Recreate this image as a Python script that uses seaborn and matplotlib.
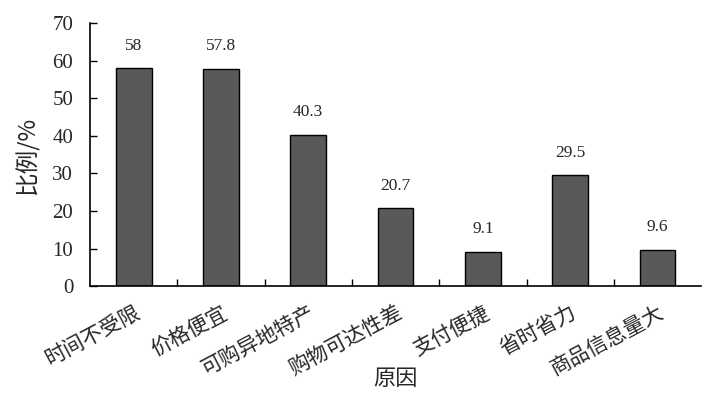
import matplotlib
matplotlib.use("Agg")
import matplotlib.pyplot as plt
import seaborn as sns
import pandas as pd

categories = ["时间不受限", "价格便宜", "可购异地特产", "购物可达性差", "支付便捷", "省时省力", "商品信息量大"]
values = [58, 57.8, 40.3, 20.7, 9.1, 29.5, 9.6]
value_labels = ["58", "57.8", "40.3", "20.7", "9.1", "29.5", "9.6"]
y_ticks = [0, 10, 20, 30, 40, 50, 60, 70]

sns.set_theme(style="ticks")
plt.rcParams['font.family'] = ['Liberation Serif', 'Noto Sans CJK SC', 'DejaVu Sans']
plt.rcParams['axes.unicode_minus'] = False

df = pd.DataFrame({"原因": categories, "比例": values})

fig = plt.figure(figsize=(7.14, 3.99), dpi=100)
ax = fig.add_axes([0.126, 0.283, 0.856, 0.659])
sns.barplot(data=df, x="原因", y="比例", color="#595959", edgecolor="black",
            linewidth=1.0, width=0.41, saturation=1, ax=ax)

ax.set_ylim(0, 70)
ax.set_yticks(y_ticks)
ax.set_yticklabels([str(t) for t in y_ticks], fontsize=15, family='Liberation Serif')
ax.set_xlim(-0.5, len(categories) - 0.5)

for i, (v, lab) in enumerate(zip(values, value_labels)):
    ax.text(i, v + 6.0, lab, ha="center", va="center", fontsize=12.5, family='Liberation Serif')

ax.set_xticks(range(len(categories)))
ax.set_xticklabels(categories, rotation=28, ha="right", rotation_mode="anchor",
                   fontsize=15, family=['Noto Sans CJK SC', 'DejaVu Sans'])
ax.tick_params(axis="x", length=0, pad=11)
ax.set_xticks([i + 0.5 for i in range(len(categories) - 1)], minor=True)
ax.tick_params(axis="x", which="minor", direction="in", length=5, width=1, color="black")
ax.tick_params(axis="y", direction="in", length=5, width=1, color="black", pad=12)

ax.set_xlabel("原因", fontsize=16, family=['Noto Sans CJK SC', 'DejaVu Sans'], va="center")
ax.xaxis.set_label_coords(0.5, -0.35)
ax.set_ylabel("比例/%", fontsize=17, family=['Noto Sans CJK SC', 'DejaVu Sans'], labelpad=9)

for s in ["top", "right"]:
    ax.spines[s].set_visible(False)
for s in ["left", "bottom"]:
    ax.spines[s].set_color("black")
    ax.spines[s].set_linewidth(1.2)

fig.savefig("out.png", dpi=100)
